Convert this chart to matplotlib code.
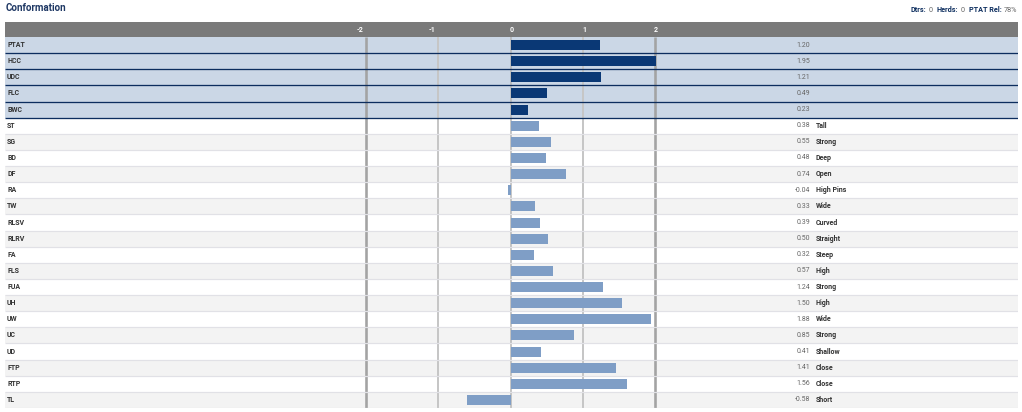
import matplotlib
matplotlib.use('Agg')
import matplotlib.pyplot as plt

plt.rcParams['font.family'] = ['Roboto', 'DejaVu Sans']

# data ==========================================================
traits = ['PTAT', 'HCC', 'UDC', 'FLC', 'BWC',
          'ST', 'SG', 'BD', 'DF', 'RA', 'TW', 'RLSV', 'RLRV', 'FA', 'FLS',
          'FUA', 'UH', 'UW', 'UC', 'UD', 'FTP', 'RTP', 'TL']
values = [1.20, 1.95, 1.21, 0.49, 0.23,
          0.38, 0.55, 0.48, 0.74, -0.04, 0.33, 0.39, 0.50, 0.32, 0.57,
          1.24, 1.50, 1.88, 0.85, 0.41, 1.41, 1.56, -0.58]
descs = ['', '', '', '', '',
         'Tall', 'Strong', 'Deep', 'Open', 'High Pins', 'Wide', 'Curved', 'Straight', 'Steep', 'High',
         'Strong', 'High', 'Wide', 'Strong', 'Shallow', 'Close', 'Close', 'Short']
nTop = 5
ticks = [-2, -1, 0, 1, 2]
infoLabels = ['Dtrs:', 'Herds:', 'PTAT Rel:']
infoValues = ['0', '0', '78%']

# layout (pixels) ===============================================
W, H = 1022, 412
pxUnit = 74.5      # pixels per unit for the bars
gridFactor = 72.1 / pxUnit   # gridlines sit a little tighter than the bar scale
zeroPx = 510.5
leftPx, rightPx = 5, 1018
topPx, botPx = 22, 408
headH = 0.93       # header height in rows

navy = '#0c2d5e'
px = 0.72          # 1 px in points

fig = plt.figure(figsize=(W / 100, H / 100), dpi=100)
ax = fig.add_axes([leftPx / W, (H - botPx) / H, (rightPx - leftPx) / W, (botPx - topPx) / H])
xmin = (leftPx - zeroPx) / pxUnit
xmax = (rightPx - zeroPx) / pxUnit
ax.set_xlim(xmin, xmax)
nRows = len(traits)
ax.set_ylim(nRows, -headH)
ax.axis('off')

# header
ax.axhspan(-headH, 0, color='#7a7a7a', lw=0)
for t in ticks:
    gx = t * gridFactor
    if t < 0:
        ax.annotate(str(t), (gx, -headH / 2), xytext=(-3 * px, 0), textcoords='offset points',
                    ha='right', va='center', color='white', fontsize=5, fontweight='bold')
    else:
        ax.annotate(str(t), (gx, -headH / 2), xytext=(1.5 * px, 0), textcoords='offset points',
                    ha='center', va='center', color='white', fontsize=5, fontweight='bold')

# row backgrounds
for i in range(nRows):
    if i < nTop:
        bg = '#cbd7e6'
    elif (i - nTop) % 2 == 1:
        bg = '#f3f3f3'
    else:
        bg = 'white'
    ax.axhspan(i, i + 1, color=bg, lw=0, zorder=0)

# vertical gridlines
for t in ticks:
    if abs(t) == 2:
        c, w = '#a3a3a3', 2.6
    elif abs(t) == 1:
        c, w = '#c6c6c6', 2.0
    else:
        c, w = '#b5b5b5', 1.5
    ax.vlines(t * gridFactor, 0, nRows, colors=c, lw=w * px, zorder=1)

# row separators
for i in range(1, nRows + 1):
    if i <= nTop:
        ax.hlines(i, xmin, xmax, colors=navy, lw=1.3 * px, zorder=3)
    else:
        ax.hlines(i, xmin, xmax, colors='#e1e1e6', lw=1.2 * px, zorder=2)

# bars
yPos = [i + 0.5 for i in range(nRows)]
barColors = ['#0a3875' if i < nTop else '#7f9ec6' for i in range(nRows)]
ax.barh(yPos, values, height=0.62, color=barColors, zorder=4)

# labels and values
valX = (810 - zeroPx) / pxUnit
descX = (816 - zeroPx) / pxUnit
labX = (7 - zeroPx) / pxUnit
for i in range(nRows):
    y = yPos[i]
    ax.text(labX, y, traits[i], ha='left', va='center', fontsize=5, fontweight='bold', color='#333333', zorder=5)
    ax.text(valX, y, '%.2f' % values[i], ha='right', va='center', fontsize=5, color='#666666', zorder=5)
    if descs[i]:
        ax.text(descX, y, descs[i], ha='left', va='center', fontsize=5, fontweight='bold', color='#333333', zorder=5)

# title
fig.text(6 / W, 1 - 8 / H, 'Conformation', ha='left', va='center', fontsize=7, fontweight='bold', color='#1f3864')

# info at top right, laid out right to left on one baseline
items = []
for k in range(len(infoLabels)):
    items.append((infoLabels[k], True))
    items.append((infoValues[k], False))

renderer = fig.canvas.get_renderer()
xRight = 1017.0
baseY = 1 - 11.5 / H
for s, bold in reversed(items):
    t = fig.text(xRight / W, baseY, s, ha='right', va='baseline', fontsize=5.2,
                 fontweight='bold' if bold else 'normal',
                 color=navy if bold else '#666666')
    w = t.get_window_extent(renderer).width
    # small gap between a label and its value, wider gap before the next label
    gap = 2.0 if not bold else 4.5
    xRight -= w + gap

fig.savefig('out.png', dpi=100)
